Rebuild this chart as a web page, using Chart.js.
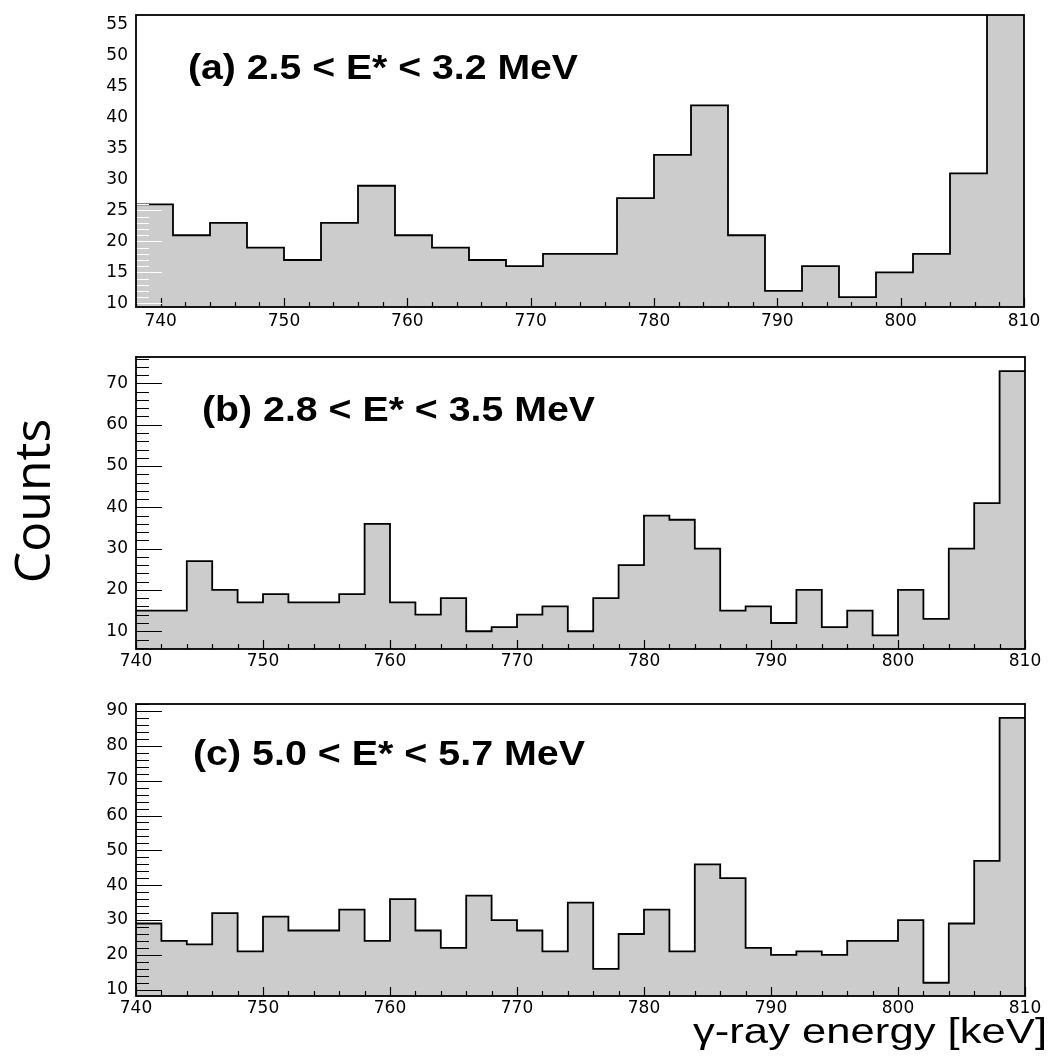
<!DOCTYPE html>
<html><head><meta charset="utf-8">
<script src="https://cdn.jsdelivr.net/npm/chart.js@4.4.0/dist/chart.umd.min.js"></script>
<style>
html,body{margin:0;padding:0;background:#fff;}
body{width:1053px;height:1062px;position:relative;overflow:hidden;}
canvas{position:absolute;left:0;}
</style></head><body>
<canvas id="ca" width="1053" height="337" style="top:0px"></canvas>
<canvas id="cb" width="1053" height="342" style="top:337px"></canvas>
<canvas id="cc" width="1053" height="383" style="top:679px"></canvas>
<script>
// ---- data ----
const binLowA = [738,741,744,747,750,753,756,759,762,765,768,771,774,777,780,783,786,789,792,795,798,801,804,807];
const binHighA = 810;
const countsA = [26,21,23,19,17,23,29,21,19,17,16,18,18,27,34,42,21,12,16,11,15,18,31,57];

const binLowBC = [740,742,744,746,748,750,752,754,756,758,760,762,764,766,768,770,772,774,776,778,780,782,784,786,788,790,792,794,796,798,800,802,804,806,808];
const binHighBC = 810;
const countsB = [15,15,27,20,17,19,17,17,19,36,17,14,18,10,11,14,16,10,18,26,38,37,30,15,16,12,20,11,15,9,20,13,30,41,73];
const countsC = [29,24,23,32,21,31,27,27,33,24,36,27,22,37,30,27,21,35,16,26,33,21,46,42,22,20,21,20,24,24,30,12,29,47,88];

const xTickLabels = [740,750,760,770,780,790,800,810];
const yTicksA = [10,15,20,25,30,35,40,45,50,55];
const yTicksB = [10,20,30,40,50,60,70];
const yTicksC = [10,20,30,40,50,60,70,80,90];

const labelA = '(a) 2.5 < E* < 3.2 MeV';
const labelB = '(b) 2.8 < E* < 3.5 MeV';
const labelC = '(c) 5.0 < E* < 5.7 MeV';
const yTitle = 'Counts';
const xTitle = 'γ-ray energy [keV]';

function histPoints(lows, high, counts) {
  const pts = lows.map((x, i) => ({x: x, y: counts[i]}));
  pts.push({x: high, y: counts[counts.length - 1]});
  return pts;
}

Chart.defaults.font.family = '"DejaVu Sans", sans-serif';
Chart.defaults.font.size = 17;
Chart.defaults.color = '#000';

const rootFrame = {
  id: 'rootFrame',
  afterDatasetsDraw(chart, args, o) {
    const {ctx, chartArea: a, scales: {x, y}} = chart;
    ctx.save();
    ctx.lineWidth = 1.2;
    // x ticks (inside, from bottom)
    ctx.strokeStyle = '#000';
    ctx.beginPath();
    for (let v = Math.ceil(x.min / o.xMinor) * o.xMinor; v <= x.max + 1e-9; v += o.xMinor) {
      const px = Math.round(x.getPixelForValue(v)) + 0.5;
      const len = o.xMajor.includes(v) ? 9 : 5;
      ctx.moveTo(px, a.bottom); ctx.lineTo(px, a.bottom - len);
    }
    ctx.stroke();
    // y ticks (inside, from left)
    ctx.strokeStyle = o.yTickColor;
    ctx.beginPath();
    for (let v = Math.ceil(y.min / o.yMinor) * o.yMinor; v <= y.max + 1e-9; v += o.yMinor) {
      const py = Math.round(y.getPixelForValue(v)) + 0.5;
      const len = o.yMajor.includes(v) ? 26 : 13;
      ctx.moveTo(a.left, py); ctx.lineTo(a.left + len, py);
    }
    ctx.stroke();
    // frame
    ctx.strokeStyle = '#000';
    ctx.lineWidth = 1.8;
    ctx.strokeRect(a.left, a.top, a.right - a.left, a.bottom - a.top);
    // panel label
    ctx.fillStyle = '#000';
    ctx.font = 'bold 35px "Liberation Sans", Arial, sans-serif';
    ctx.textBaseline = 'alphabetic';
    ctx.textAlign = 'left';
    const w = ctx.measureText(o.label).width;
    ctx.translate(o.labelX, o.labelY);
    ctx.scale(o.labelW / w, 1);
    ctx.fillText(o.label, 0, 0);
    ctx.restore();
    if (o.extra) o.extra(ctx);
  }
};

function makePanel(id, cfg) {
  return new Chart(document.getElementById(id), {
    type: 'line',
    data: {
      datasets: [{
        data: cfg.points,
        stepped: true,
        borderColor: '#000',
        borderWidth: 1.8,
        backgroundColor: 'rgb(204,204,204)',
        fill: 'start',
        pointRadius: 0,
        pointHoverRadius: 0
      }]
    },
    options: {
      responsive: false,
      animation: false,
      events: [],
      layout: {padding: {top: cfg.padTop, right: cfg.padRight, left: 0, bottom: 0}},
      plugins: {
        legend: {display: false},
        tooltip: {enabled: false},
        title: {display: false},
        rootFrame: cfg.frame
      },
      scales: {
        x: {
          type: 'linear',
          min: cfg.xMin, max: cfg.xMax,
          grid: {display: false},
          border: {display: false},
          ticks: {padding: cfg.xPad, maxRotation: 0, autoSkip: false},
          afterBuildTicks(s) { s.ticks = xTickLabels.map(v => ({value: v})); },
          afterFit(s) { s.height = cfg.xAxisH; }
        },
        y: {
          type: 'linear',
          min: cfg.yMin, max: cfg.yMax,
          grid: {display: false},
          border: {display: false},
          ticks: {padding: 0, autoSkip: false},
          afterBuildTicks(s) { s.ticks = cfg.yTicks.map(v => ({value: v})); },
          afterFit(s) { s.width = 136; }
        }
      }
    },
    plugins: [rootFrame]
  });
}

makePanel('ca', {
  points: histPoints(binLowA, binHighA, countsA),
  padTop: 15, padRight: 29, xAxisH: 30, xPad: -4,
  xMin: 738, xMax: 810, yMin: 9.4, yMax: 56.6, yTicks: yTicksA,
  frame: {xMinor: 2, xMajor: xTickLabels, yMinor: 1, yMajor: yTicksA, yTickColor: '#fff',
          label: labelA, labelX: 188, labelY: 79, labelW: 390}
});

makePanel('cb', {
  points: histPoints(binLowBC, binHighBC, countsB),
  padTop: 20, padRight: 28, xAxisH: 30, xPad: -6,
  xMin: 740, xMax: 810, yMin: 5.7, yMax: 76.4, yTicks: yTicksB,
  frame: {xMinor: 2, xMajor: xTickLabels, yMinor: 2, yMajor: yTicksB, yTickColor: '#000',
          label: labelB, labelX: 202, labelY: 421 - 337, labelW: 393,
          extra(ctx) {
            ctx.save();
            ctx.fillStyle = '#000';
            ctx.font = '50px "Open Sans", sans-serif';
            ctx.textAlign = 'center';
            ctx.textBaseline = 'alphabetic';
            ctx.translate(50, 501 - 337);
            ctx.rotate(-Math.PI / 2);
            ctx.fillText(yTitle, 0, 0);
            ctx.restore();
          }}
});

makePanel('cc', {
  points: histPoints(binLowBC, binHighBC, countsC),
  padTop: 25, padRight: 28, xAxisH: 66, xPad: -6,
  xMin: 740, xMax: 810, yMin: 8.2, yMax: 92, yTicks: yTicksC,
  frame: {xMinor: 2, xMajor: xTickLabels, yMinor: 2, yMajor: yTicksC, yTickColor: '#000',
          label: labelC, labelX: 193, labelY: 765 - 679, labelW: 392,
          extra(ctx) {
            ctx.save();
            ctx.fillStyle = '#000';
            ctx.font = '35px "Liberation Sans", Arial, sans-serif';
            ctx.textAlign = 'right';
            ctx.textBaseline = 'alphabetic';
            const w = ctx.measureText(xTitle).width;
            ctx.translate(1047, 1043 - 679);
            ctx.scale(354 / w, 1);
            ctx.fillText(xTitle, 0, 0);
            ctx.restore();
          }}
});
</script>
</body></html>
